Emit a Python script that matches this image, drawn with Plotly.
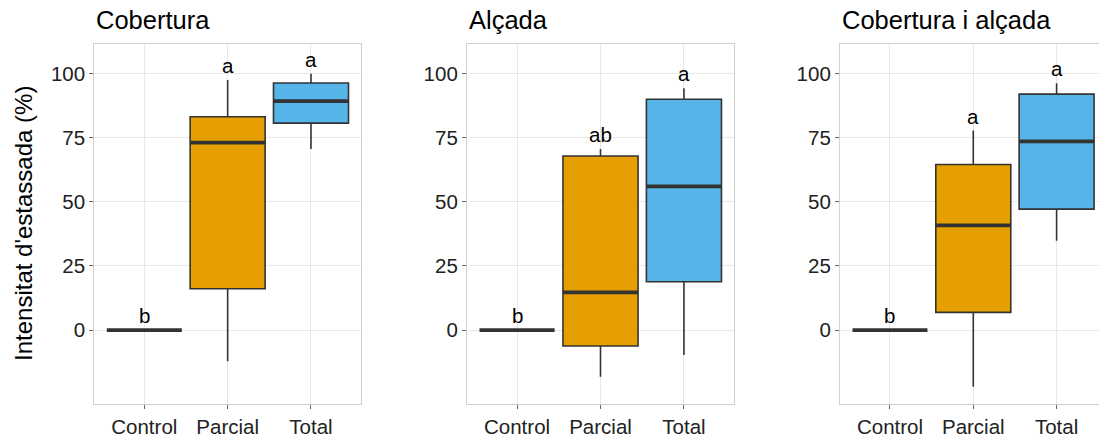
import plotly.graph_objects as go

# ---------------- data ----------------
categories = ["Control", "Parcial", "Total"]
panel_titles = ["Cobertura", "Alçada", "Cobertura i alçada"]

# per panel, per category: lower whisker, Q1, median, Q3, upper whisker
cob_low = [0, -12.1, 70.5]
cob_q1 = [0, 16.1, 80.6]
cob_med = [0, 73.0, 89.2]
cob_q3 = [0, 83.1, 96.2]
cob_high = [0, 97.4, 99.8]
cob_letters = ["b", "a", "a"]

alc_low = [0, -18.2, -9.7]
alc_q1 = [0, -6.2, 18.8]
alc_med = [0, 14.7, 56.0]
alc_q3 = [0, 67.8, 89.9]
alc_high = [0, 70.5, 94.2]
alc_letters = ["b", "ab", "a"]

ca_low = [0, -22.1, 34.8]
ca_q1 = [0, 6.9, 47.1]
ca_med = [0, 40.8, 73.5]
ca_q3 = [0, 64.5, 91.9]
ca_high = [0, 77.7, 96.1]
ca_letters = ["b", "a", "a"]

y_ticks = [0, 25, 50, 75, 100]
y_title = "Intensitat d'estassada (%)"

panels = [
    (cob_low, cob_q1, cob_med, cob_q3, cob_high, cob_letters),
    (alc_low, alc_q1, alc_med, alc_q3, alc_high, alc_letters),
    (ca_low, ca_q1, ca_med, ca_q3, ca_high, ca_letters),
]

# ---------------- style ----------------
fills = ["rgba(0,0,0,0)", "#E69F00", "#56B4E9"]
edge = "#333333"
box_w = 0.9
font_family = "Liberation Sans, Arial, sans-serif"
W, H = 1099, 437

x_domains = [[94.3 / W, 361.0 / W], [467.0 / W, 734.0 / W], [840.0 / W, 1.0]]
x_ranges = [[0.4, 3.6], [0.4, 3.6], [0.4, 3.509]]
y_domain = [1 - 404.3 / H, 1 - 44.3 / H]
y_range = [-28.9, 111.3]

fig = go.Figure()
xpos = [i + 1 for i in range(len(categories))]

for p, (low, q1, med, q3, high, letters) in enumerate(panels):
    xa = "x" if p == 0 else f"x{p+1}"
    ya = "y" if p == 0 else f"y{p+1}"
    for i, cat in enumerate(categories):
        if i == 0:
            continue  # Control collapses to a line at its median
        fig.add_trace(go.Box(
            x=[xpos[i]], q1=[q1[i]], median=[med[i]], q3=[q3[i]],
            lowerfence=[low[i]], upperfence=[high[i]],
            width=box_w, whiskerwidth=0, fillcolor=fills[i],
            line=dict(color=edge, width=1.6), boxpoints=False,
            hoverinfo="skip", showlegend=False, xaxis=xa, yaxis=ya,
        ))
    # thick median lines
    mx, my = [], []
    for i in range(len(categories)):
        mx += [xpos[i] - box_w / 2, xpos[i] + box_w / 2, None]
        my += [med[i], med[i], None]
    fig.add_trace(go.Scatter(
        x=mx, y=my, mode="lines", line=dict(color=edge, width=3.8),
        hoverinfo="skip", showlegend=False, xaxis=xa, yaxis=ya,
    ))
    # significance letters
    for i in range(len(categories)):
        fig.add_annotation(
            x=xpos[i], y=high[i] + 5.6, xref=xa, yref=ya, text=letters[i],
            showarrow=False, yanchor="middle", xanchor="center",
            font=dict(family=font_family, size=20.5, color="#000000"),
        )
    # panel title
    fig.add_annotation(
        x=x_domains[p][0], y=1 - 20 / H, xref="paper", yref="paper",
        text=panel_titles[p], showarrow=False, xanchor="left", yanchor="middle",
        font=dict(family=font_family, size=25.5, color="#000000"),
    )

axis_common = dict(
    showgrid=True, gridcolor="#E8E8E8", gridwidth=1, zeroline=False,
    showline=True, linecolor="#D0D0D0", linewidth=1.2,
    ticks="outside", ticklen=4, tickcolor="#666666", tickwidth=1,
    tickfont=dict(family=font_family, size=20.5, color="#222222"),
)

layout = dict(
    width=W, height=H, margin=dict(l=0, r=0, t=0, b=0),
    paper_bgcolor="white", plot_bgcolor="white", boxmode="overlay",
    font=dict(family=font_family),
)
for p in range(3):
    sx = "" if p == 0 else str(p + 1)
    layout[f"xaxis{sx}"] = dict(
        axis_common, domain=x_domains[p], range=x_ranges[p],
        tickvals=xpos, ticktext=categories, mirror=True,
        anchor=f"y{sx}",
    )
    layout[f"yaxis{sx}"] = dict(
        axis_common, domain=y_domain, range=y_range,
        tickvals=y_ticks, ticktext=[str(v) for v in y_ticks],
        mirror=(p < 2), anchor=f"x{sx}",
    )
fig.update_layout(**layout)

fig.add_annotation(
    x=23 / W, y=1 - 224 / H, xref="paper", yref="paper", text=y_title,
    textangle=-90, showarrow=False, xanchor="center", yanchor="middle",
    font=dict(family=font_family, size=24, color="#000000"),
)

fig.write_html("out.html")
